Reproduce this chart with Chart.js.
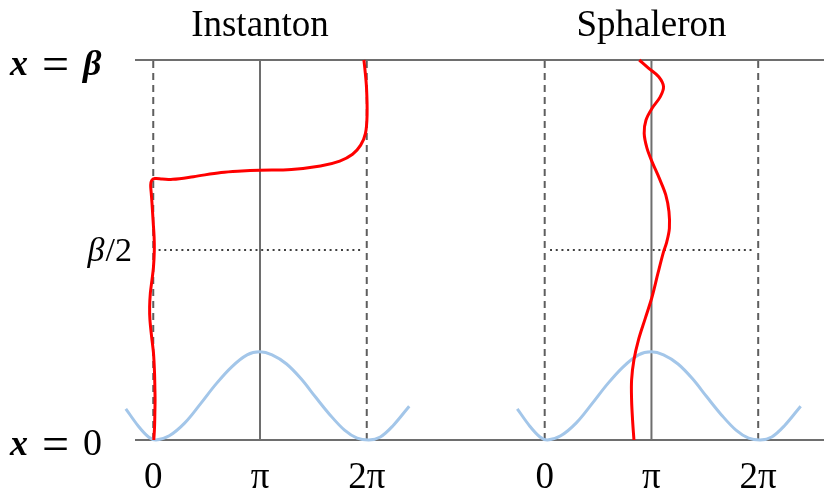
<!DOCTYPE html>
<html><head><meta charset="utf-8">
<script src="https://cdn.jsdelivr.net/npm/chart.js@4.4.1/dist/chart.umd.min.js"></script>
<style>html,body{margin:0;padding:0;background:#fff;}#wrap{width:824px;height:489px;}</style>
</head><body><div id="wrap"><canvas id="c" width="824" height="489"></canvas></div>
<script>
// ---- data (theta in units of pi, time in units of beta) ----
const panelTitles = ["Instanton", "Sphaleron"];
const tickValues = [0, 1, 2];
const tickLabels = ["0", "π", "2π"];
const timeValues = [0, 0.5, 1];
const timeLabels = ["x = 0", "β/2", "x = β"];

const instantonTheta = [0.005,0.012,0.015,0.017,0.015,0.012,0.002,-0.015,-0.031,-0.034,-0.027,-0.012,0.002,0.010,0.008,-0.002,-0.012,-0.019,-0.024,-0.015,0.015,0.083,0.183,0.377,0.636,0.830,0.998,1.294,1.566,1.747,1.867,1.943,1.988,2.003,1.998,1.982,1.973];
const instantonTime  = [0,0.034,0.071,0.105,0.139,0.176,0.229,0.271,0.316,0.350,0.387,0.421,0.455,0.500,0.534,0.579,0.624,0.650,0.671,0.683,0.688,0.687,0.686,0.693,0.704,0.708,0.710,0.712,0.721,0.734,0.752,0.776,0.807,0.855,0.926,0.978,1];

const sphaleronTheta = [0.836,0.823,0.814,0.814,0.836,0.878,0.942,1.006,1.061,1.113,1.143,1.168,1.164,1.134,1.073,1.006,0.958,0.932,0.949,1.006,1.082,1.113,1.068,0.975,0.886];
const sphaleronTime  = [0,0.053,0.105,0.158,0.211,0.263,0.320,0.377,0.439,0.495,0.521,0.557,0.601,0.645,0.689,0.732,0.768,0.807,0.842,0.873,0.903,0.930,0.956,0.978,1];

const potentialTheta = [-0.257,-0.141,-0.044,0.024,0.150,0.296,0.442,0.587,0.733,0.879,0.998,1.113,1.249,1.385,1.520,1.656,1.792,1.910,2.018,2.127,2.244,2.398];
const potentialValue = [0.082,0.037,0.008,0,0.011,0.045,0.095,0.147,0.192,0.224,0.232,0.224,0.200,0.161,0.113,0.066,0.026,0.005,0,0.008,0.037,0.089];

// ---- layout constants ----
const PANEL_OFFSET = 3.667;
const X_MIN = -0.171, X_MAX = 6.2834;

const pts = (xs, ys, off) => xs.map((v, i) => ({x: v + off, y: ys[i]}));
function line(data, color, width, dash, order, tension) {
  return {data, borderColor: color, backgroundColor: color, borderWidth: width, borderDash: dash || [],
    pointRadius: 0, pointHoverRadius: 0, showLine: true, fill: false, tension: tension || 0, order, clip: false};
}
const GRAY = '#6e6e6e', DASH = '#5e5e5e';
const datasets = [];
[0, PANEL_OFFSET].forEach((off, p) => {
  datasets.push(line(p === 0 ? pts(instantonTheta, instantonTime, off) : pts(sphaleronTheta, sphaleronTime, off), '#ff0000', 3, [], 0, 0.35));
  datasets.push(line(pts(potentialTheta, potentialValue, off), '#a3c6e9', 3, [], 1, 0.35));
  datasets.push(line([{x: off + tickValues[0], y: 0}, {x: off + tickValues[0], y: 1}], DASH, 2, [7, 5], 3));
  datasets.push(line([{x: off + tickValues[2], y: 0}, {x: off + tickValues[2], y: 1}], DASH, 2, [7, 5], 3));
  datasets.push(line([{x: off + tickValues[1], y: 0}, {x: off + tickValues[1], y: 1}], GRAY, 2, [], 3));
  datasets.push(line([{x: off + 0.05, y: 0.5}, {x: off + 1.97, y: 0.5}], '#000', 1.6, [2, 3.7], 4));
});
datasets.push(line([{x: X_MIN, y: 1}, {x: X_MAX, y: 1}], GRAY, 2, [], 5));
datasets.push(line([{x: X_MIN, y: 0}, {x: X_MAX, y: 0}], GRAY, 2, [], 5));

const allTicks = [];
[0, PANEL_OFFSET].forEach(off => tickValues.forEach((v, i) => allTicks.push({value: off + v, label: tickLabels[i]})));

const textPlugin = {
  id: 'texts',
  afterDraw(chart) {
    const ctx = chart.ctx, xs = chart.scales.x, ys = chart.scales.y;
    ctx.save();
    ctx.fillStyle = '#000';
    ctx.textBaseline = 'alphabetic';
    ctx.textAlign = 'center';
    ctx.font = '37px "Liberation Serif"';
    panelTitles.forEach((t, i) => ctx.fillText(t, xs.getPixelForValue(i * PANEL_OFFSET + tickValues[1]), 36));
    timeLabels.forEach((lab, i) => {
      const y = ys.getPixelForValue(timeValues[i]);
      const parts = lab.split(' ');
      ctx.textAlign = 'left';
      if (parts.length === 3) {
        const base = y + 15;
        ctx.font = 'italic bold 36px "Liberation Serif"';
        ctx.fillText(parts[0], 10, base);
        ctx.font = '48px "Liberation Serif"';
        ctx.fillText(parts[1], 42, y + 20);
        ctx.font = parts[2] === 'β' ? 'italic bold 36px "Liberation Serif"' : '38px "Liberation Serif"';
        ctx.fillText(parts[2], 83, base);
      } else {
        const base = y + 11;
        ctx.textAlign = 'right';
        const rest = lab.slice(1);
        ctx.font = '34px "Liberation Serif"';
        const w = ctx.measureText(rest).width;
        ctx.fillText(rest, 132, base);
        ctx.font = 'italic 34px "Liberation Serif"';
        ctx.fillText(lab[0], 132 - w - 1, base);
      }
    });
    ctx.restore();
  }
};

new Chart(document.getElementById('c'), {
  type: 'scatter',
  data: {datasets},
  options: {
    responsive: false, animation: false, devicePixelRatio: 1,
    layout: {padding: {left: 135, right: 0, top: 60, bottom: 0}},
    plugins: {legend: {display: false}, tooltip: {enabled: false}, title: {display: false}},
    scales: {
      x: {
        type: 'linear', min: X_MIN, max: X_MAX,
        grid: {display: false}, border: {display: false},
        afterBuildTicks: s => { s.ticks = allTicks.map(t => ({value: t.value})); },
        afterFit: s => { s.height = 49; },
        ticks: {autoSkip: false, maxRotation: 0, padding: 8, color: '#000',
          font: {family: '"Liberation Serif"', size: 37},
          callback: (v, i) => allTicks[i] ? allTicks[i].label : ''}
      },
      y: {type: 'linear', min: 0, max: 1, display: false}
    }
  },
  plugins: [textPlugin]
});
</script></body></html>
